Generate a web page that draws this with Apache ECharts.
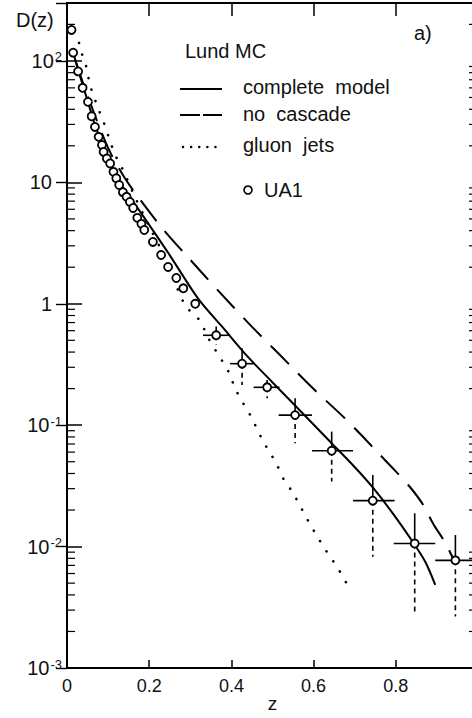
<!DOCTYPE html>
<html>
<head>
    <meta charset="UTF-8">
    <title>D(z)</title>
    <style type="text/css">
        html, body { margin: 0; padding: 0; background: #fff; }
        #chart { width: 472px; height: 718px; }
    </style>
    <script type="text/javascript" src="https://cdn.jsdelivr.net/npm/echarts@6/dist/echarts.min.js"></script>
</head>
<body>
<div id="chart"></div>
<script type="text/javascript">
    // UA1 points, fine bins (z, D)
    var ua1Z = [0.011, 0.015, 0.027, 0.038, 0.051, 0.060, 0.068, 0.077, 0.085, 0.089, 0.097, 0.105, 0.113, 0.120,
        0.127, 0.136, 0.145, 0.153, 0.161, 0.171, 0.181, 0.188, 0.209, 0.229, 0.246, 0.266, 0.283, 0.312];
    var ua1D = [180, 117, 82, 60, 46, 35, 28.6, 23.7, 20.3, 17.8, 15.7, 14.3, 12.2, 10.8,
        9.5, 8.3, 7.6, 6.9, 6.15, 5.1, 4.55, 4.05, 3.23, 2.52, 2.01, 1.63, 1.34, 1.0];

    // UA1 points, wide bins with error bars
    var binZ = [0.363, 0.426, 0.487, 0.555, 0.644, 0.744, 0.846, 0.945];
    var binD = [0.55, 0.321, 0.205, 0.121, 0.0615, 0.0239, 0.0106, 0.0077];
    var binLo = [0.331, 0.397, 0.454, 0.515, 0.596, 0.696, 0.795, 0.896];
    var binHi = [0.397, 0.454, 0.517, 0.596, 0.696, 0.797, 0.896, 1.0];
    var errLo = [0.46, 0.214, 0.167, 0.071, 0.0343, 0.00826, 0.00284, 0.00265];
    var errHi = [0.65, 0.43, 0.235, 0.167, 0.0885, 0.0389, 0.0188, 0.01245];

    // complete model
    var solidZ = [0.0153, 0.0317, 0.0487, 0.068, 0.0926, 0.121, 0.153, 0.2, 0.251, 0.32, 0.378, 0.438, 0.499,
        0.568, 0.641, 0.702, 0.745, 0.794, 0.843, 0.872, 0.896];
    var solidD = [116, 75, 48.7, 29.7, 18.5, 10.9, 7.6, 4.46, 2.48, 1.09, 0.644, 0.372, 0.227,
        0.131, 0.0727, 0.0444, 0.0304, 0.0185, 0.0107, 0.00747, 0.00483];

    // no cascade
    var dashZ = [0.02, 0.05, 0.1, 0.141, 0.178, 0.235, 0.3, 0.37, 0.442, 0.514, 0.594, 0.676, 0.716, 0.758, 0.796, 0.834, 0.866, 0.892, 0.92, 0.945];
    var dashD = [102, 51.5, 19.2, 10.8, 7.2, 4.06, 2.30, 1.26, 0.69, 0.391, 0.208, 0.114, 0.083, 0.0586, 0.043, 0.0311, 0.0222, 0.0152, 0.0108, 0.00728];

    // gluon jets
    var gluZ = [0.0292, 0.0365, 0.0463, 0.056, 0.0658, 0.0748, 0.0901, 0.1089, 0.121, 0.133, 0.166, 0.202, 0.239,
        0.287, 0.322, 0.344, 0.361, 0.377, 0.395, 0.409, 0.429, 0.447, 0.46, 0.478, 0.494, 0.51, 0.528, 0.55,
        0.562, 0.577, 0.592, 0.608, 0.623, 0.639, 0.658, 0.68];
    var gluD = [140.7, 114, 91, 63.4, 50.5, 41.5, 30.7, 19.95, 15.8, 13.3, 7.5, 4.2, 2.38,
        0.977, 0.735, 0.52, 0.416, 0.341, 0.267, 0.201, 0.151, 0.119, 0.0967, 0.0731, 0.0593, 0.0477, 0.0354, 0.0278,
        0.0232, 0.0188, 0.0151, 0.0123, 0.0101, 0.00837, 0.00673, 0.00499];

    // axis
    var yMin = 0.001, yMax = 300;
    var minorMult = [2, 3, 4, 5, 6, 7, 8, 9];
    var decades = [-3, -2, -1, 0, 1, 2];

    var FONT = "'Liberation Sans', Arial, sans-serif";

    function pairs(xs, ys) {
        var out = [];
        for (var i = 0; i < xs.length; i++) out.push([xs[i], ys[i]]);
        return out;
    }

    var minorData = [];
    decades.forEach(function (e) {
        minorMult.forEach(function (m) {
            var v = m * Math.pow(10, e);
            if (v < yMax) minorData.push([0, v]);
        });
    });

    var errData = [];
    for (var i = 0; i < binZ.length; i++) {
        errData.push([binZ[i], binD[i], binLo[i], binHi[i], errLo[i], errHi[i]]);
    }

    function yLabel(v) {
        var e = Math.round(Math.log(v) / Math.LN10);
        if (Math.abs(v - Math.pow(10, e)) / Math.pow(10, e) > 1e-6) return '';
        if (e === 1) return '10{sp|}';
        if (e === 0) return '1{sp|}';
        return '10{sup|' + e + '}';
    }

    var chart = echarts.init(document.getElementById('chart'), null, {renderer: 'svg'});

    var option = {
        animation: false,
        backgroundColor: '#fff',
        grid: {left: 67, right: -6, top: 3, bottom: 50, outerBoundsMode: 'none'},
        xAxis: [{
            type: 'value', min: 0, max: 1, interval: 0.2,
            name: 'z', nameLocation: 'middle', nameGap: 26, nameMoveOverlap: false,
            nameTextStyle: {fontFamily: FONT, fontSize: 19, color: '#111'},
            axisLine: {lineStyle: {color: '#000', width: 2}},
            axisTick: {inside: true, length: 8, lineStyle: {color: '#000', width: 1.5}},
            axisLabel: {margin: 9, fontFamily: FONT, fontSize: 18, color: '#111'},
            splitLine: {show: false}
        }, {
            type: 'value', min: 0, max: 1, interval: 0.2, position: 'top',
            axisLine: {lineStyle: {color: '#000', width: 2}},
            axisTick: {inside: true, length: 13, lineStyle: {color: '#000', width: 1.5}},
            axisLabel: {show: false},
            splitLine: {show: false}
        }],
        yAxis: [{
            type: 'log', logBase: 10, min: yMin, max: yMax,
            axisLine: {lineStyle: {color: '#000', width: 2}},
            axisTick: {inside: true, length: 15, lineStyle: {color: '#000', width: 1.5}},
            axisLabel: {
                margin: 5, fontFamily: FONT, fontSize: 20, color: '#111',
                formatter: yLabel,
                rich: {
                    sup: {fontFamily: FONT, fontSize: 13, color: '#111', verticalAlign: 'top', padding: [0, 0, 8, 1]},
                    sp: {width: 10}
                }
            },
            splitLine: {show: false}
        }, {
            type: 'log', logBase: 10, min: yMin, max: yMax, position: 'right',
            axisLine: {lineStyle: {color: '#000', width: 2}},
            axisTick: {inside: true, length: 11, lineStyle: {color: '#000', width: 1.4}},
            axisLabel: {show: false},
            splitLine: {show: false}
        }],
        series: [{
            name: 'minor ticks', type: 'custom', silent: true, z: 1,
            data: minorData,
            renderItem: function (params, api) {
                var l = api.coord([0, api.value(1)]);
                var r = api.coord([1, api.value(1)]);
                return {
                    type: 'group', children: [
                        {type: 'line', shape: {x1: l[0], y1: l[1], x2: l[0] + 8, y2: l[1]}, style: {stroke: '#000', lineWidth: 1.2}},
                        {type: 'line', shape: {x1: r[0], y1: r[1], x2: r[0] - 9, y2: r[1]}, style: {stroke: '#000', lineWidth: 1.2}}
                    ]
                };
            }
        }, {
            name: 'complete model', type: 'line', data: pairs(solidZ, solidD),
            smooth: 0.3, symbol: 'none', z: 3,
            lineStyle: {color: '#000', width: 2}
        }, {
            name: 'no cascade', type: 'line', data: pairs(dashZ, dashD),
            smooth: 0.3, symbol: 'none', z: 3,
            lineStyle: {color: '#000', width: 2, type: [26, 13]}
        }, {
            name: 'gluon jets', type: 'line', data: pairs(gluZ, gluD),
            smooth: 0.3, symbol: 'none', z: 3,
            lineStyle: {color: '#000', width: 2.6, type: [0.1, 12], cap: 'round'}
        }, {
            name: 'UA1 errors', type: 'custom', silent: true, z: 4,
            data: errData,
            renderItem: function (params, api) {
                var c = api.coord([api.value(0), api.value(1)]);
                var l = api.coord([api.value(2), api.value(1)]);
                var r = api.coord([api.value(3), api.value(1)]);
                var lo = api.coord([api.value(0), api.value(4)]);
                var hi = api.coord([api.value(0), api.value(5)]);
                return {
                    type: 'group', children: [
                        {type: 'line', shape: {x1: l[0], y1: c[1], x2: r[0], y2: c[1]}, style: {stroke: '#000', lineWidth: 1.6}},
                        {type: 'line', shape: {x1: c[0], y1: hi[1], x2: c[0], y2: c[1]}, style: {stroke: '#000', lineWidth: 1.6}},
                        {type: 'line', shape: {x1: c[0], y1: c[1], x2: c[0], y2: lo[1]}, style: {stroke: '#000', lineWidth: 1.6, lineDash: [5, 4]}}
                    ]
                };
            }
        }, {
            name: 'UA1', type: 'scatter', z: 5,
            data: pairs(ua1Z, ua1D).concat(pairs(binZ, binD)),
            symbol: 'circle', symbolSize: 8,
            itemStyle: {color: '#ffffff', opacity: 1, borderColor: '#000', borderWidth: 1.8}
        }],
        graphic: [
            {type: 'text', x: 16, y: 20, style: {text: 'D(z)', font: '20px ' + FONT, fill: '#111', verticalAlign: 'middle'}},
            {type: 'text', x: 414, y: 33, style: {text: 'a)', font: '20px ' + FONT, fill: '#111', verticalAlign: 'middle'}},
            {type: 'text', x: 185, y: 51, style: {text: 'Lund MC', font: '20px ' + FONT, fill: '#111', verticalAlign: 'middle'}},
            {type: 'line', shape: {x1: 180, y1: 89, x2: 222, y2: 89}, style: {stroke: '#000', lineWidth: 2}},
            {type: 'text', x: 243, y: 87, style: {text: 'complete  model', font: '20px ' + FONT, fill: '#111', verticalAlign: 'middle'}},
            {type: 'line', shape: {x1: 180, y1: 115, x2: 222, y2: 115}, style: {stroke: '#000', lineWidth: 2, lineDash: [20, 3]}},
            {type: 'text', x: 243, y: 114, style: {text: 'no  cascade', font: '20px ' + FONT, fill: '#111', verticalAlign: 'middle'}},
            {type: 'line', shape: {x1: 183, y1: 147, x2: 216, y2: 147}, style: {stroke: '#000', lineWidth: 2.4, lineDash: [0.1, 8], lineCap: 'round'}},
            {type: 'text', x: 243, y: 145, style: {text: 'gluon  jets', font: '20px ' + FONT, fill: '#111', verticalAlign: 'middle'}},
            {type: 'circle', shape: {cx: 248, cy: 190, r: 4}, style: {fill: '#fff', stroke: '#000', lineWidth: 1.6}},
            {type: 'text', x: 264, y: 190, style: {text: 'UA1', font: '20px ' + FONT, fill: '#111', verticalAlign: 'middle'}}
        ]
    };
    chart.setOption(option);
</script>
</body>
</html>
